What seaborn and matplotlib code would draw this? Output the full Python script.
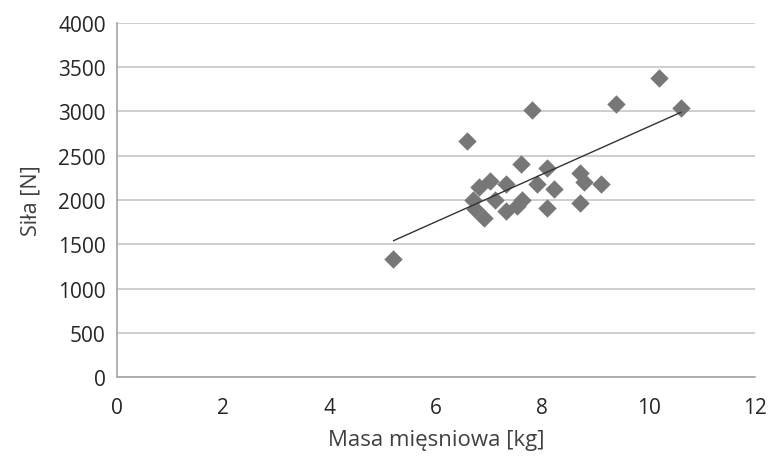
import numpy as np
import pandas as pd
import matplotlib
matplotlib.use("Agg")
import matplotlib.pyplot as plt
import seaborn as sns

# muscle mass [kg] and force [N]
masa = [5.2, 6.59, 7.8, 9.39, 10.2, 10.61, 7.6, 8.08, 8.7, 8.78, 9.1, 8.21, 7.89,
        7.32, 7.02, 6.8, 6.69, 7.11, 7.61, 7.52, 7.32, 6.9, 6.73, 8.09, 8.7]
sila = [1330, 2670, 3020, 3090, 3380, 3040, 2410, 2360, 2300, 2200, 2180, 2120, 2180,
        2180, 2210, 2150, 2000, 2000, 2000, 1930, 1880, 1800, 1900, 1910, 1970]

df = pd.DataFrame({"masa": masa, "sila": sila})

sns.set_style("white")
plt.rcParams['font.family'] = ['Open Sans', 'DejaVu Sans']

fig = plt.figure(figsize=(7.69, 4.60), dpi=100)
ax = fig.add_axes([0.152, 0.178, 0.830, 0.770])

ax.yaxis.grid(True, color="#c6c6c6", linewidth=1.2)
ax.set_axisbelow(True)

sns.scatterplot(data=df, x="masa", y="sila", marker="D", s=88, color="#777777",
                edgecolor="#777777", linewidth=0, ax=ax, zorder=3)

# linear trend line
a, b = np.polyfit(df["masa"], df["sila"], 1)
xs = np.array([df["masa"].min(), df["masa"].max()])
sns.lineplot(x=xs, y=a * xs + b, color="#333333", linewidth=1.0, ax=ax, zorder=4)

ax.set_xlim(0, 12)
ax.set_ylim(0, 4000)
ax.set_xticks(range(0, 13, 2))
ax.set_yticks(range(0, 4001, 500))

for s in ["top", "right"]:
    ax.spines[s].set_visible(False)
for s in ["left", "bottom"]:
    ax.spines[s].set_color("#a6a6a6")
    ax.spines[s].set_linewidth(1.2)

ax.tick_params(axis="y", length=5, color="#a6a6a6", width=1.2, labelsize=15,
               labelcolor="#262626", pad=3)
ax.tick_params(axis="x", length=0, labelsize=15, labelcolor="#262626", pad=14)

ax.set_xlabel("Masa mięsniowa [kg]", fontsize=16, color="#404040", labelpad=8)
ax.set_ylabel("Siła [N]", fontsize=15.5, color="#404040", labelpad=12)

fig.savefig("out.png", dpi=100)
